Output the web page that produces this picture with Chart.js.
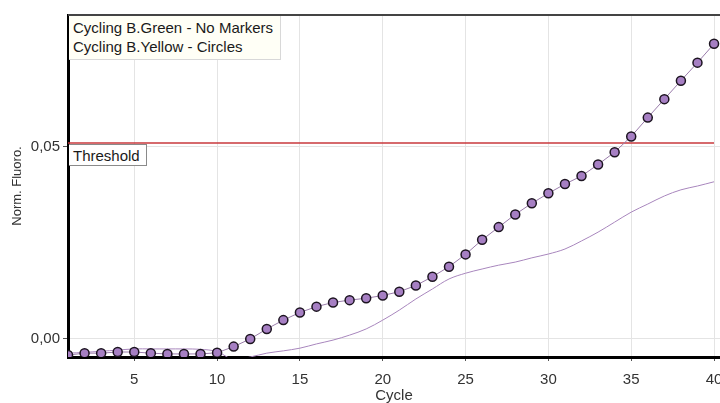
<!DOCTYPE html>
<html><head><meta charset="utf-8">
<script src="https://cdn.jsdelivr.net/npm/chart.js@4/dist/chart.umd.min.js"></script>
<style>
html,body{margin:0;padding:0;background:#fff;}
#wrap{position:relative;width:720px;height:403px;}
canvas{position:absolute;left:0;top:0;}
#legend{position:absolute;left:69px;top:16px;width:212px;height:44px;background:#fffff6;border:1px solid #d8d8d8;border-left:none;border-top:none;font:15px "Liberation Sans",Arial,sans-serif;color:#1a1a1a;padding:2px 0 0 4px;line-height:19px;box-sizing:border-box;}
#thr{position:absolute;left:69px;width:78px;height:22px;box-sizing:border-box;background:#fff;border:1px solid #8a8a8a;border-left:none;font:15px "Liberation Sans",Arial,sans-serif;color:#1a1a1a;padding:1px 0 0 4px;line-height:19px;}
</style></head>
<body><div id="wrap"><canvas id="c" width="720" height="403"></canvas>
<div id="legend"></div><div id="thr">Threshold</div></div>
<script>
const cycles = [1,2,3,4,5,6,7,8,9,10,11,12,13,14,15,16,17,18,19,20,21,22,23,24,25,26,27,28,29,30,31,32,33,34,35,36,37,38,39,40];
const yellowCircles = [-0.0043,-0.0038,-0.0038,-0.0035,-0.0035,-0.0038,-0.0040,-0.0040,-0.0040,-0.0037,-0.0021,-0.0001,0.0025,0.0048,0.0068,0.0083,0.0094,0.0100,0.0105,0.0112,0.0122,0.0138,0.0161,0.0187,0.0219,0.0257,0.0290,0.0323,0.0352,0.0378,0.0402,0.0423,0.0453,0.0485,0.0526,0.0575,0.0623,0.0671,0.0718,0.0767];
const greenNoMarkers = [-0.0038,-0.0036,-0.0033,-0.0030,-0.0027,-0.0027,-0.0027,-0.0027,-0.0028,-0.0034,-0.0055,-0.0048,-0.0038,-0.0032,-0.0025,-0.0014,-0.0004,0.0009,0.0025,0.0048,0.0074,0.0103,0.0129,0.0155,0.0170,0.0181,0.0191,0.0199,0.0210,0.0220,0.0233,0.0254,0.0277,0.0303,0.0329,0.0350,0.0371,0.0387,0.0397,0.0408];
const threshold = 0.0509;
const xTicks = [5,10,15,20,25,30,35,40];
const yTicks = [0.00,0.05];
const seriesLabels = ["Cycling B.Green - No Markers","Cycling B.Yellow - Circles"];

document.getElementById('legend').innerHTML = seriesLabels.map(s=>'<div>'+s+'</div>').join('');

const PLOT_RIGHT = 720;
const frame = {
  id:'frame',
  afterLayout(chart){
    const a = chart.chartArea;
    a.right = PLOT_RIGHT; a.width = a.right - a.left;
    const x = chart.scales.x;
    x.right = PLOT_RIGHT; x.width = x.right - x.left;
    x.configure();
  },
  afterDraw(chart){
    const {ctx, chartArea:a} = chart;
    ctx.save();
    ctx.strokeStyle='#444'; ctx.lineWidth=2;
    ctx.beginPath(); ctx.moveTo(a.left, a.top); ctx.lineTo(720, a.top); ctx.stroke();
    ctx.restore();
    const yp = chart.scales.y.getPixelForValue(threshold);
    document.getElementById('thr').style.top = (yp+1)+'px';
  }
};

const F = {family:'Liberation Sans', size:15};
new Chart(document.getElementById('c'), {
  type:'line',
  data:{
    datasets:[
      {label:seriesLabels[0], data:cycles.map((c,i)=>({x:c,y:greenNoMarkers[i]})), borderColor:'#a886bd', borderWidth:1, pointRadius:0, tension:0.35, order:2},
      {label:seriesLabels[1], data:cycles.map((c,i)=>({x:c,y:yellowCircles[i]})), borderColor:'#9a7cab', borderWidth:1, pointRadius:4.5, pointBackgroundColor:'#a67fc3', pointBorderColor:'#1c1420', pointBorderWidth:1.5, tension:0, order:1},
      {label:'Threshold', data:[{x:cycles[0],y:threshold},{x:cycles[cycles.length-1],y:threshold}], borderColor:'#c8383c', borderWidth:1.5, pointRadius:0, order:3}
    ]
  },
  options:{
    responsive:false, animation:false, devicePixelRatio:1,
    layout:{padding:{top:15,right:0,left:0,bottom:0}},
    plugins:{legend:{display:false}, tooltip:{enabled:false}},
    scales:{
      x:{type:'linear', min:1, max:40.36,
        afterBuildTicks(s){ s.ticks = xTicks.map(v=>({value:v})); },
        afterFit(s){ s.height = 46; },
        grid:{color:'#e4e4e4', lineWidth:1, drawTicks:true, tickLength:4, tickColor:'#555'},
        border:{color:'#000', width:3},
        ticks:{color:'#333', font:F, padding:10, maxRotation:0},
        title:{display:true, text:'Cycle', color:'#333', font:F, padding:{top:0,bottom:-2}}
      },
      y:{type:'linear', min:-0.0048, max:0.0842,
        afterBuildTicks(s){ s.ticks = yTicks.map(v=>({value:v})); },
        afterFit(s){ s.width = 68; },
        grid:{color:'#e4e4e4', lineWidth:1, drawTicks:true, tickLength:5, tickColor:'#555'},
        border:{color:'#000', width:3},
        ticks:{color:'#333', font:F, padding:3, callback:v=>v.toFixed(2).replace('.',',')},
        title:{display:true, text:'Norm. Fluoro.', color:'#333', font:{family:'Liberation Sans', size:13}, padding:{top:10,bottom:0}}
      }
    }
  },
  plugins:[frame]
});
</script></body></html>
